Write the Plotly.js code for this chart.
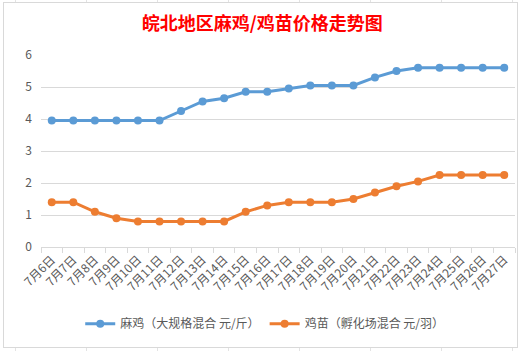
<!DOCTYPE html>
<html>
<head>
<meta charset="utf-8">
<script src="https://cdn.plot.ly/plotly-3.0.1.min.js"></script>
<style>
  html, body { margin: 0; padding: 0; background: #ffffff; }
  #bg { position: absolute; left: 0; top: 0; width: 531px; height: 351px;
        background-image: repeating-linear-gradient(to right, transparent 0, transparent 14px, #e3e3e3 14px, #e3e3e3 15px, transparent 15px, transparent 71px);
        background-position: 1px 0; }
  #frame { position: absolute; left: 3px; top: 2px; width: 513px; height: 344px;
           border: 1px solid #d9d9d9; background: #ffffff; }
  #chart { position: absolute; left: 0; top: 0; width: 531px; height: 351px; }
</style>
</head>
<body>
<div id="bg"></div>
<div id="frame"></div>
<div id="chart"></div>
<script>
const categories = ['7月6日','7月7日','7月8日','7月9日','7月10日','7月11日','7月12日','7月13日','7月14日','7月15日','7月16日','7月17日','7月18日','7月19日','7月20日','7月21日','7月22日','7月23日','7月24日','7月25日','7月26日','7月27日'];
const majiPrice = [3.95,3.95,3.95,3.95,3.95,3.95,4.25,4.55,4.65,4.85,4.85,4.95,5.05,5.05,5.05,5.3,5.5,5.6,5.6,5.6,5.6,5.6];
const jimiaoPrice = [1.4,1.4,1.1,0.9,0.8,0.8,0.8,0.8,0.8,1.1,1.3,1.4,1.4,1.4,1.5,1.7,1.9,2.05,2.25,2.25,2.25,2.25];
const seriesNames = ['麻鸡（大规格混合 元/斤）','鸡苗（孵化场混合 元/羽）'];
const yTicks = [0,1,2,3,4,5,6];

const font = '"Noto Sans CJK SC", "Microsoft YaHei", sans-serif';

const traces = [
  { x: categories, y: majiPrice, name: seriesNames[0], type: 'scatter', mode: 'lines+markers',
    line: { color: '#5B9BD5', width: 3 }, marker: { color: '#5B9BD5', size: 8 } },
  { x: categories, y: jimiaoPrice, name: seriesNames[1], type: 'scatter', mode: 'lines+markers',
    line: { color: '#ED7D31', width: 3 }, marker: { color: '#ED7D31', size: 8 } }
];

const layout = {
  width: 531, height: 351,
  paper_bgcolor: 'rgba(0,0,0,0)', plot_bgcolor: 'rgba(0,0,0,0)',
  margin: { l: 41, r: 16, t: 55, b: 100 },
  font: { family: font, color: '#595959', size: 12 },
  title: { text: '<b>皖北地区麻鸡/鸡苗价格走势图</b>', x: 0.494, xanchor: 'center', y: 0.932, yanchor: 'middle',
           font: { family: font, size: 18, color: '#FF0000' } },
  xaxis: { type: 'category', range: [-0.5, categories.length - 0.5], tickangle: -45,
           showline: true, linecolor: '#d9d9d9', linewidth: 1,
           ticks: 'outside', tickson: 'boundaries', ticklen: 5, tickcolor: '#d9d9d9',
           showgrid: false, zeroline: false, fixedrange: true,
           tickfont: { family: font, size: 12, color: '#595959' } },
  yaxis: { range: [0, 6], tickvals: yTicks, showgrid: true, gridcolor: '#d9d9d9', gridwidth: 1,
           zeroline: false, showline: false, ticks: '', ticklabelstandoff: 8,
           tickfont: { family: font, size: 12, color: '#595959' } },
  showlegend: true,
  legend: { orientation: 'h', x: 0.472, xanchor: 'center', y: -0.40, yanchor: 'middle',
            font: { family: font, size: 12, color: '#595959' }, itemwidth: 30, bgcolor: 'rgba(0,0,0,0)' }
};

Plotly.newPlot('chart', traces, layout, { displayModeBar: false, staticPlot: true });
</script>
</body>
</html>
